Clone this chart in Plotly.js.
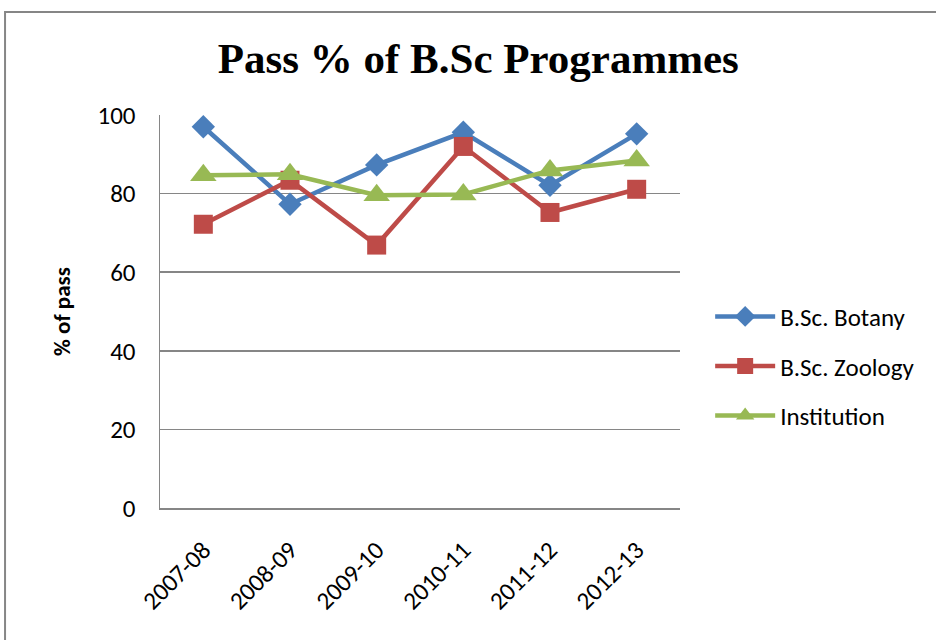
<!DOCTYPE html>
<html>
<head>
<meta charset="utf-8">
<script src="https://cdn.plot.ly/plotly-3.0.1.min.js"></script>
<style>html,body{margin:0;padding:0;background:#fff;}#chart{width:936px;height:640px;}</style>
</head>
<body>
<div id="chart"></div>
<script>
const years = ["2007-08", "2008-09", "2009-10", "2010-11", "2011-12", "2012-13"];
const botany = [97.0, 77.3, 87.3, 95.6, 82.1, 95.2];
const zoology = [72.2, 83.4, 66.9, 92.0, 75.2, 81.1];
const institution = [84.7, 84.9, 79.6, 79.8, 85.9, 88.4];
const yTicks = [0, 20, 40, 60, 80, 100];

const font = "Carlito, Calibri, 'Open Sans', 'Liberation Sans', sans-serif";

const traces = [
  {x: years, y: botany, name: "B.Sc. Botany", legendgroup: "a", type: "scatter", mode: "lines+markers",
   line: {color: "#4A7EBB", width: 4.5}, marker: {symbol: "diamond", size: 18, color: "#4A7EBB"}},
  {x: years, y: zoology, name: "B.Sc. Zoology", legendgroup: "b", type: "scatter", mode: "lines+markers",
   line: {color: "#BE4B48", width: 4.5}, marker: {symbol: "square", size: 19, color: "#BE4B48"}},
  {x: years, y: institution, name: "Institution", legendgroup: "c", type: "scatter", mode: "lines+markers",
   line: {color: "#98B954", width: 4.5}, marker: {symbol: "triangle-up", size: 23, color: "#98B954"}}
];

const layout = {
  width: 936, height: 640,
  margin: {l: 160, r: 256, t: 115, b: 132},
  paper_bgcolor: "#fff", plot_bgcolor: "#fff",
  showlegend: true,
  title: {text: "<b>Pass % of B.Sc Programmes</b>", font: {family: "'Liberation Serif', 'Times New Roman', serif", size: 43, color: "#000"},
          x: 0.511, xanchor: "center", y: 0.91, yanchor: "middle"},
  xaxis: {type: "category", range: [-0.5, 5.5], showgrid: false, showline: true, linecolor: "#868686", linewidth: 1.5,
          ticks: "", tickangle: -45, ticklabelstandoff: 16, tickfont: {family: font, size: 25, color: "#000"}, zeroline: false, fixedrange: true},
  yaxis: {range: [0, 100], tickvals: yTicks, ticktext: yTicks.map(String), showgrid: true, gridcolor: "#868686", gridwidth: 1.5,
          showline: true, linecolor: "#868686", linewidth: 1.5, ticks: "", zeroline: false, ticklabelstandoff: 18,
          tickfont: {family: font, size: 25, color: "#000"},
          title: {text: "<b>% of pass</b>", font: {family: font, size: 23, color: "#000"}, standoff: 20}},
  legend: {x: 1.058, y: 0.361, xanchor: "left", yanchor: "middle", font: {family: font, size: 25, color: "#000"},
           itemwidth: 60, tracegroupgap: 14, bgcolor: "rgba(0,0,0,0)"},
  shapes: [
    {type: "rect", xref: "paper", yref: "paper", x0: -0.298, x1: 1.6, y0: -0.4, y1: 1.262,
     line: {color: "#868686", width: 2}, fillcolor: "rgba(0,0,0,0)", layer: "below"}
  ]
};

Plotly.newPlot("chart", traces, layout, {displayModeBar: false, staticPlot: true});
</script>
</body>
</html>
